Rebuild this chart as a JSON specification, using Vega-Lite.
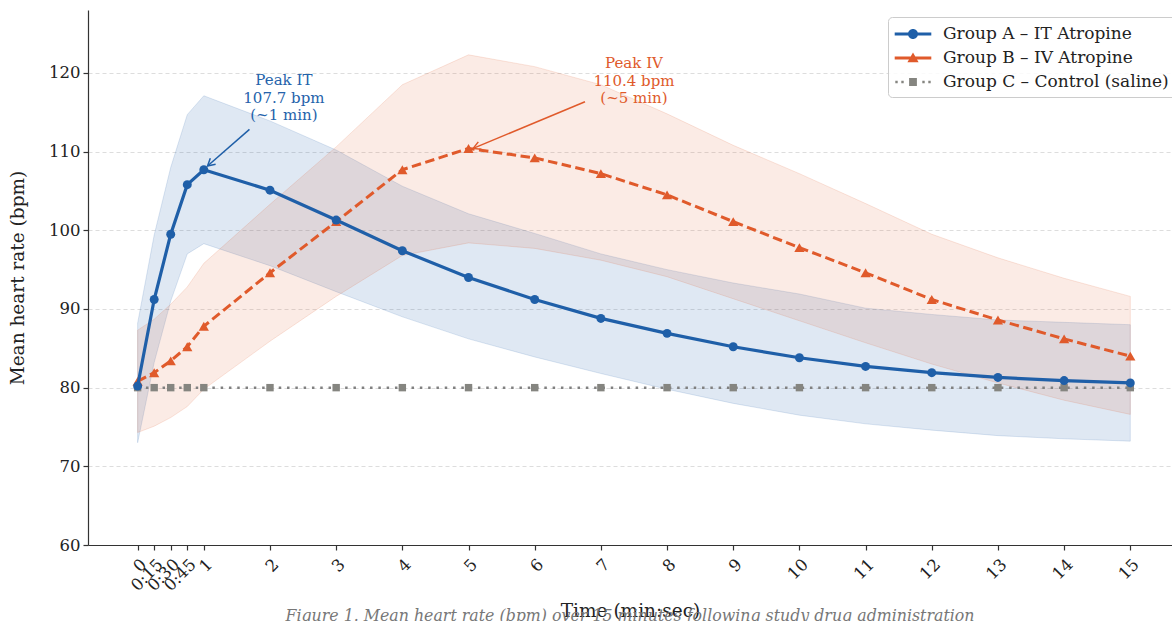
{
  "$schema": "https://vega.github.io/schema/vega-lite/v6.json",
  "width": 1084,
  "height": 535,
  "autosize": {"type": "none"},
  "padding": {"left": 88, "top": 10, "right": 0, "bottom": 76},
  "background": "white",
  "config": {
    "font": "DejaVu Serif",
    "view": {"stroke": null},
    "axis": {
      "domainColor": "#333333",
      "domainWidth": 1.2,
      "tickColor": "#333333",
      "tickWidth": 1.2,
      "tickSize": 5,
      "labelFont": "DejaVu Serif",
      "labelFontSize": 16.5,
      "labelColor": "#222222",
      "titleFont": "DejaVu Serif",
      "titleFontSize": 18.5,
      "titleFontWeight": "normal",
      "titleColor": "#222222"
    }
  },
  "title": {
    "text": "Figure 1. Mean heart rate (bpm) over 15 minutes following study drug administration",
    "orient": "bottom",
    "anchor": "middle",
    "font": "DejaVu Serif",
    "fontStyle": "italic",
    "fontWeight": "normal",
    "fontSize": 15.8,
    "color": "#777777",
    "offset": -11
  },
  "datasets": {
    "hr": [
      {"group": "Group A – IT Atropine", "t": 0, "mean": 80.2, "lo": 73.0, "hi": 88.2},
      {"group": "Group A – IT Atropine", "t": 0.25, "mean": 91.2, "lo": 83.2, "hi": 99.4},
      {"group": "Group A – IT Atropine", "t": 0.5, "mean": 99.5, "lo": 91.0, "hi": 108.0},
      {"group": "Group A – IT Atropine", "t": 0.75, "mean": 105.8, "lo": 97.0, "hi": 114.7},
      {"group": "Group A – IT Atropine", "t": 1, "mean": 107.7, "lo": 98.3, "hi": 117.1},
      {"group": "Group A – IT Atropine", "t": 2, "mean": 105.1, "lo": 95.5, "hi": 113.9},
      {"group": "Group A – IT Atropine", "t": 3, "mean": 101.3, "lo": 92.2, "hi": 110.2},
      {"group": "Group A – IT Atropine", "t": 4, "mean": 97.4, "lo": 89.0, "hi": 105.6},
      {"group": "Group A – IT Atropine", "t": 5, "mean": 94.0, "lo": 86.2, "hi": 102.1},
      {"group": "Group A – IT Atropine", "t": 6, "mean": 91.2, "lo": 83.9, "hi": 99.6},
      {"group": "Group A – IT Atropine", "t": 7, "mean": 88.8, "lo": 81.8, "hi": 97.0},
      {"group": "Group A – IT Atropine", "t": 8, "mean": 86.9, "lo": 79.8, "hi": 95.0},
      {"group": "Group A – IT Atropine", "t": 9, "mean": 85.2, "lo": 78.0, "hi": 93.3},
      {"group": "Group A – IT Atropine", "t": 10, "mean": 83.8, "lo": 76.5, "hi": 91.9},
      {"group": "Group A – IT Atropine", "t": 11, "mean": 82.7, "lo": 75.4, "hi": 90.1},
      {"group": "Group A – IT Atropine", "t": 12, "mean": 81.9, "lo": 74.6, "hi": 89.3},
      {"group": "Group A – IT Atropine", "t": 13, "mean": 81.3, "lo": 73.9, "hi": 88.6},
      {"group": "Group A – IT Atropine", "t": 14, "mean": 80.9, "lo": 73.5, "hi": 88.3},
      {"group": "Group A – IT Atropine", "t": 15, "mean": 80.6, "lo": 73.2, "hi": 88.0},
      {"group": "Group B – IV Atropine", "t": 0, "mean": 80.8, "lo": 74.3, "hi": 87.3},
      {"group": "Group B – IV Atropine", "t": 0.25, "mean": 81.9, "lo": 75.1, "hi": 88.7},
      {"group": "Group B – IV Atropine", "t": 0.5, "mean": 83.4, "lo": 76.2, "hi": 90.6},
      {"group": "Group B – IV Atropine", "t": 0.75, "mean": 85.2, "lo": 77.6, "hi": 92.8},
      {"group": "Group B – IV Atropine", "t": 1, "mean": 87.8, "lo": 79.8, "hi": 95.8},
      {"group": "Group B – IV Atropine", "t": 2, "mean": 94.6, "lo": 85.9, "hi": 103.3},
      {"group": "Group B – IV Atropine", "t": 3, "mean": 101.1, "lo": 91.6, "hi": 110.6},
      {"group": "Group B – IV Atropine", "t": 4, "mean": 107.7, "lo": 96.8, "hi": 118.5},
      {"group": "Group B – IV Atropine", "t": 5, "mean": 110.4, "lo": 98.4, "hi": 122.3},
      {"group": "Group B – IV Atropine", "t": 6, "mean": 109.2, "lo": 97.7, "hi": 120.8},
      {"group": "Group B – IV Atropine", "t": 7, "mean": 107.2, "lo": 96.2, "hi": 118.5},
      {"group": "Group B – IV Atropine", "t": 8, "mean": 104.5, "lo": 94.1, "hi": 114.8},
      {"group": "Group B – IV Atropine", "t": 9, "mean": 101.1, "lo": 91.3, "hi": 110.8},
      {"group": "Group B – IV Atropine", "t": 10, "mean": 97.8, "lo": 88.5, "hi": 107.2},
      {"group": "Group B – IV Atropine", "t": 11, "mean": 94.6, "lo": 85.7, "hi": 103.4},
      {"group": "Group B – IV Atropine", "t": 12, "mean": 91.2, "lo": 83.0, "hi": 99.5},
      {"group": "Group B – IV Atropine", "t": 13, "mean": 88.6, "lo": 80.6, "hi": 96.5},
      {"group": "Group B – IV Atropine", "t": 14, "mean": 86.2, "lo": 78.4, "hi": 93.9},
      {"group": "Group B – IV Atropine", "t": 15, "mean": 84.0, "lo": 76.6, "hi": 91.6},
      {"group": "Group C – Control (saline)", "t": 0, "mean": 80},
      {"group": "Group C – Control (saline)", "t": 0.25, "mean": 80},
      {"group": "Group C – Control (saline)", "t": 0.5, "mean": 80},
      {"group": "Group C – Control (saline)", "t": 0.75, "mean": 80},
      {"group": "Group C – Control (saline)", "t": 1, "mean": 80},
      {"group": "Group C – Control (saline)", "t": 2, "mean": 80},
      {"group": "Group C – Control (saline)", "t": 3, "mean": 80},
      {"group": "Group C – Control (saline)", "t": 4, "mean": 80},
      {"group": "Group C – Control (saline)", "t": 5, "mean": 80},
      {"group": "Group C – Control (saline)", "t": 6, "mean": 80},
      {"group": "Group C – Control (saline)", "t": 7, "mean": 80},
      {"group": "Group C – Control (saline)", "t": 8, "mean": 80},
      {"group": "Group C – Control (saline)", "t": 9, "mean": 80},
      {"group": "Group C – Control (saline)", "t": 10, "mean": 80},
      {"group": "Group C – Control (saline)", "t": 11, "mean": 80},
      {"group": "Group C – Control (saline)", "t": 12, "mean": 80},
      {"group": "Group C – Control (saline)", "t": 13, "mean": 80},
      {"group": "Group C – Control (saline)", "t": 14, "mean": 80},
      {"group": "Group C – Control (saline)", "t": 15, "mean": 80}
    ],
    "notes": [
      {"group": "Group A – IT Atropine", "t": 2.21, "v": 119.09, "label": "Peak IT\n107.7 bpm\n(~1 min)"},
      {"group": "Group B – IV Atropine", "t": 7.5, "v": 121.22, "label": "Peak IV\n110.4 bpm\n(~5 min)"}
    ],
    "arrows": [
      {"group": "Group A – IT Atropine", "t": 1.69, "v": 112.83, "t2": 1.056, "v2": 108.17},
      {"group": "Group B – IV Atropine", "t": 6.76, "v": 116.34, "t2": 5.07, "v2": 110.41}
    ]
  },
  "layer": [
    {
      "data": {"name": "hr"},
      "transform": [{"filter": "datum.group === 'Group A – IT Atropine'"}],
      "mark": {"type": "area", "fill": "#1f5fa8", "fillOpacity": 0.14, "stroke": "#1f5fa8", "strokeOpacity": 0.15, "strokeWidth": 1},
      "encoding": {
        "x": {
          "field": "t", "type": "quantitative",
          "scale": {"domain": [-0.75, 15.63], "nice": false, "zero": false},
          "axis": {
            "title": "Time (min:sec)",
            "grid": false,
            "values": [0, 0.25, 0.5, 0.75, 1, 2, 3, 4, 5, 6, 7, 8, 9, 10, 11, 12, 13, 14, 15],
            "labelExpr": "datum.value == 0.25 ? '0:15' : datum.value == 0.5 ? '0:30' : datum.value == 0.75 ? '0:45' : format(datum.value, 'd')",
            "labelAngle": -45,
            "labelAlign": "right",
            "labelBaseline": "top",
            "labelOverlap": false,
            "labelPadding": 6,
            "titlePadding": 8
          }
        },
        "y": {
          "field": "lo", "type": "quantitative",
          "scale": {"domain": [60, 128], "nice": false, "zero": false},
          "axis": {
            "title": "Mean heart rate (bpm)",
            "values": [60, 70, 80, 90, 100, 110, 120],
            "grid": true,
            "gridDash": [4, 3],
            "gridColor": "#dddddd",
            "gridWidth": 1,
            "labelPadding": 3,
            "titlePadding": 21
          }
        },
        "y2": {"field": "hi"}
      }
    },
    {
      "data": {"name": "hr"},
      "transform": [{"filter": "datum.group === 'Group B – IV Atropine'"}],
      "mark": {"type": "area", "fill": "#e05a2b", "fillOpacity": 0.12, "stroke": "#e05a2b", "strokeOpacity": 0.15, "strokeWidth": 1},
      "encoding": {
        "x": {"field": "t", "type": "quantitative"},
        "y": {"field": "lo", "type": "quantitative"},
        "y2": {"field": "hi"}
      }
    },
    {
      "data": {"name": "hr"},
      "transform": [{"filter": "datum.group === 'Group C – Control (saline)'"}],
      "mark": {"type": "line", "color": "#808080", "strokeWidth": 2.5, "strokeDash": [2.5, 5.8]},
      "encoding": {
        "x": {"field": "t", "type": "quantitative"},
        "y": {"field": "mean", "type": "quantitative"}
      }
    },
    {
      "data": {"name": "hr"},
      "transform": [{"filter": "datum.group === 'Group C – Control (saline)'"}],
      "mark": {"type": "point", "shape": "square", "filled": true, "color": "#858580", "opacity": 1, "size": 55},
      "encoding": {
        "x": {"field": "t", "type": "quantitative"},
        "y": {"field": "mean", "type": "quantitative"}
      }
    },
    {
      "data": {"name": "hr"},
      "transform": [{"filter": "datum.group === 'Group B – IV Atropine'"}],
      "mark": {"type": "line", "color": "#e05a2b", "strokeWidth": 3, "strokeDash": [9.5, 4.5]},
      "encoding": {
        "x": {"field": "t", "type": "quantitative"},
        "y": {"field": "mean", "type": "quantitative"}
      }
    },
    {
      "data": {"name": "hr"},
      "transform": [{"filter": "datum.group === 'Group B – IV Atropine'"}],
      "mark": {"type": "point", "shape": "triangle-up", "filled": true, "color": "#e05a2b", "opacity": 1, "size": 105},
      "encoding": {
        "x": {"field": "t", "type": "quantitative"},
        "y": {"field": "mean", "type": "quantitative"}
      }
    },
    {
      "data": {"name": "hr"},
      "transform": [{"filter": "datum.group === 'Group A – IT Atropine'"}],
      "mark": {"type": "line", "color": "#1f5fa8", "strokeWidth": 3.2},
      "encoding": {
        "x": {"field": "t", "type": "quantitative"},
        "y": {"field": "mean", "type": "quantitative"}
      }
    },
    {
      "data": {"name": "hr"},
      "transform": [{"filter": "datum.group === 'Group A – IT Atropine'"}],
      "mark": {"type": "point", "shape": "circle", "filled": true, "color": "#1f5fa8", "opacity": 1, "size": 80},
      "encoding": {
        "x": {"field": "t", "type": "quantitative"},
        "y": {"field": "mean", "type": "quantitative"}
      }
    },
    {
      "data": {"name": "arrows"},
      "transform": [{"filter": "datum.group === 'Group A – IT Atropine'"}],
      "mark": {"type": "rule", "strokeWidth": 1.5, "color": "#1f5fa8"},
      "encoding": {
        "x": {"field": "t", "type": "quantitative"},
        "y": {"field": "v", "type": "quantitative"},
        "x2": {"field": "t2"},
        "y2": {"field": "v2"}
      }
    },
    {
      "data": {"name": "arrows"},
      "transform": [{"filter": "datum.group === 'Group B – IV Atropine'"}],
      "mark": {"type": "rule", "strokeWidth": 1.5, "color": "#e05a2b"},
      "encoding": {
        "x": {"field": "t", "type": "quantitative"},
        "y": {"field": "v", "type": "quantitative"},
        "x2": {"field": "t2"},
        "y2": {"field": "v2"}
      }
    },
    {
      "data": {"name": "arrows"},
      "transform": [{"filter": "datum.group === 'Group A – IT Atropine'"}],
      "mark": {"type": "point", "shape": "M-0.5,0.9L0,0L0.5,0.9", "filled": false, "color": "#1f5fa8", "strokeWidth": 1.5, "size": 260, "angle": 228.7, "opacity": 1},
      "encoding": {
        "x": {"field": "t2", "type": "quantitative"},
        "y": {"field": "v2", "type": "quantitative"}
      }
    },
    {
      "data": {"name": "arrows"},
      "transform": [{"filter": "datum.group === 'Group B – IV Atropine'"}],
      "mark": {"type": "point", "shape": "M-0.5,0.9L0,0L0.5,0.9", "filled": false, "color": "#e05a2b", "strokeWidth": 1.5, "size": 260, "angle": 247.4, "opacity": 1},
      "encoding": {
        "x": {"field": "t2", "type": "quantitative"},
        "y": {"field": "v2", "type": "quantitative"}
      }
    },
    {
      "data": {"name": "notes"},
      "transform": [{"filter": "datum.group === 'Group A – IT Atropine'"}],
      "mark": {"type": "text", "lineBreak": "\n", "fontSize": 15, "font": "DejaVu Serif", "align": "center", "baseline": "middle", "lineHeight": 17.5, "color": "#2563ab"},
      "encoding": {
        "x": {"field": "t", "type": "quantitative"},
        "y": {"field": "v", "type": "quantitative"},
        "text": {"field": "label"}
      }
    },
    {
      "data": {"name": "notes"},
      "transform": [{"filter": "datum.group === 'Group B – IV Atropine'"}],
      "mark": {"type": "text", "lineBreak": "\n", "fontSize": 15, "font": "DejaVu Serif", "align": "center", "baseline": "middle", "lineHeight": 17.5, "color": "#e05a2b"},
      "encoding": {
        "x": {"field": "t", "type": "quantitative"},
        "y": {"field": "v", "type": "quantitative"},
        "text": {"field": "label"}
      }
    },
    {
      "data": {"name": "hr"},
      "transform": [{"filter": "datum.t < -5"}],
      "mark": {"type": "point", "filled": true, "opacity": 1, "strokeWidth": 0},
      "encoding": {
        "x": {"field": "t", "type": "quantitative"},
        "y": {"field": "mean", "type": "quantitative"},
        "color": {
          "field": "group", "type": "nominal",
          "scale": {
            "domain": ["Group A – IT Atropine", "Group B – IV Atropine", "Group C – Control (saline)"],
            "range": ["#1f5fa8", "#e05a2b", "#858580"]
          },
          "legend": {
            "title": null, "orient": "none", "legendX": 800, "legendY": 7,
            "symbolSize": 400, "symbolOffset": 8, "labelOffset": 20, "padding": 7, "rowPadding": 6,
            "labelFontSize": 17, "labelFont": "DejaVu Serif", "labelColor": "#222222", "labelLimit": 400,
            "fillColor": "rgba(255,255,255,0.85)", "strokeColor": "#cccccc", "cornerRadius": 4, "symbolStrokeWidth": 0
          }
        },
        "shape": {
          "field": "group", "type": "nominal",
          "scale": {
            "domain": ["Group A – IT Atropine", "Group B – IV Atropine", "Group C – Control (saline)"],
            "range": [
              "M-1.83,-0.14H1.83V0.14H-1.83Z M0.5,0A0.5,0.5 0 1,1 -0.5,0A0.5,0.5 0 1,1 0.5,0Z",
              "M-1.83,-0.14H1.83V0.14H-1.83Z M0,-0.55L0.56,0.42L-0.56,0.42Z",
              "M-1.77,-0.12h0.24v0.24h-0.24Z M-1.17,-0.12h0.24v0.24h-0.24Z M0.93,-0.12h0.24v0.24h-0.24Z M1.53,-0.12h0.24v0.24h-0.24Z M-0.39,-0.39H0.39V0.39H-0.39Z"
            ]
          },
          "legend": {
            "title": null, "orient": "none", "legendX": 800, "legendY": 7,
            "symbolSize": 400, "symbolOffset": 8, "labelOffset": 20, "padding": 7, "rowPadding": 6,
            "labelFontSize": 17, "labelFont": "DejaVu Serif", "labelColor": "#222222", "labelLimit": 400,
            "fillColor": "rgba(255,255,255,0.85)", "strokeColor": "#cccccc", "cornerRadius": 4, "symbolStrokeWidth": 0
          }
        }
      }
    }
  ]
}
